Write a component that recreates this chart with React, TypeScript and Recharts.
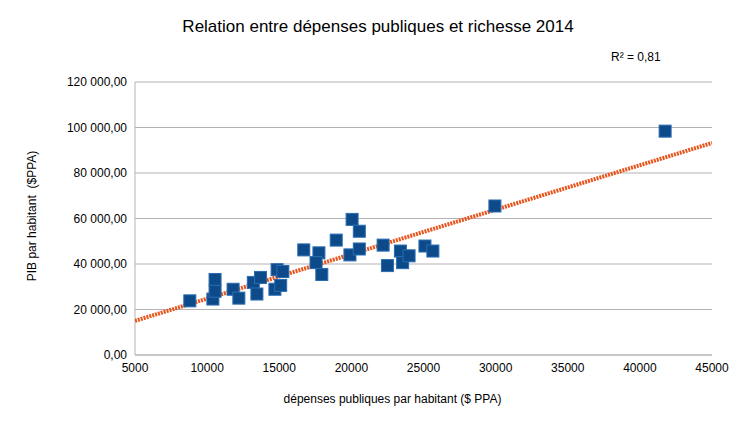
import React from 'react';
import { ScatterChart, Scatter, XAxis, YAxis, CartesianGrid } from 'recharts';

const depenses = [8800,10400,10550,10550,11800,12200,13200,13450,13700,14700,14850,15100,15250,16700,17750,17550,17950,18950,20050,20550,19900,20550,22200,22500,23400,23550,24000,25100,25650,29950,41750];
const pib = [23800,24600,33200,28000,28900,25000,31900,26800,34100,28900,37500,30600,36700,46200,44900,40600,35400,50500,59600,54400,44000,46600,48300,39300,45700,40600,43600,47900,45700,65500,98400];
const trendX = [5000, 45000];
const trendY = [15000, 93200];
const xTicks = [5000,10000,15000,20000,25000,30000,35000,40000,45000];
const yTicks = [0,20000,40000,60000,80000,100000,120000];

const points = depenses.map((x, i) => ({ x, y: pib[i] }));
const trend = trendX.map((x, i) => ({ x, y: trendY[i] }));

const fmt = (v: number) => {
  const s = Math.round(v).toString().replace(/\B(?=(\d{3})+(?!\d))/g, ' ');
  return s + ',00';
};

const Square = (p: any) => (
  <rect x={p.cx - 6} y={p.cy - 6} width={12} height={12} fill="#0d4a8a" stroke="#2a6cb0" strokeWidth={1} />
);

export default function App() {
  return (
    <div style={{ position: 'relative', width: 756, height: 425, margin: -8, background: '#fff', fontFamily: '"Liberation Sans", Arial, sans-serif' }}>
      <div style={{ position: 'absolute', top: 17, width: 756, textAlign: 'center', fontSize: 17 }}>Relation entre dépenses publiques et richesse 2014</div>
      <div style={{ position: 'absolute', top: 50, left: 611, fontSize: 12 }}>R² = 0,81</div>
      <div style={{ position: 'absolute', top: 392, left: 104, width: 577, textAlign: 'center', fontSize: 12 }}>dépenses publiques par habitant ($ PPA)</div>
      <div style={{ position: 'absolute', left: 32, top: 216, fontSize: 12, transform: 'translate(-50%,-50%) rotate(-90deg)', whiteSpace: 'pre' }}>PIB par habitant  ($PPA)</div>
      <ScatterChart width={756} height={425} margin={{ top: 82, right: 44, bottom: 40, left: 0 }} style={{ position: 'absolute', top: 0, left: 0 }}>
        <CartesianGrid horizontal vertical={false} stroke="#b3b3b3" />
        <XAxis type="number" dataKey="x" domain={[5000, 45000]} ticks={xTicks} stroke="#b3b3b3" tick={{ fill: '#000', fontSize: 12 }} tickLine={false} allowDataOverflow />
        <YAxis type="number" dataKey="y" domain={[0, 120000]} ticks={yTicks} width={135} stroke="#b3b3b3" tick={{ fill: '#000', fontSize: 12 }} tickLine={false} tickFormatter={fmt} />
        <Scatter data={trend} line={{ stroke: '#e8541b', strokeWidth: 4, strokeDasharray: '2 1' }} shape={() => null} isAnimationActive={false} />
        <Scatter data={points} shape={Square} isAnimationActive={false} />
      </ScatterChart>
    </div>
  );
}
